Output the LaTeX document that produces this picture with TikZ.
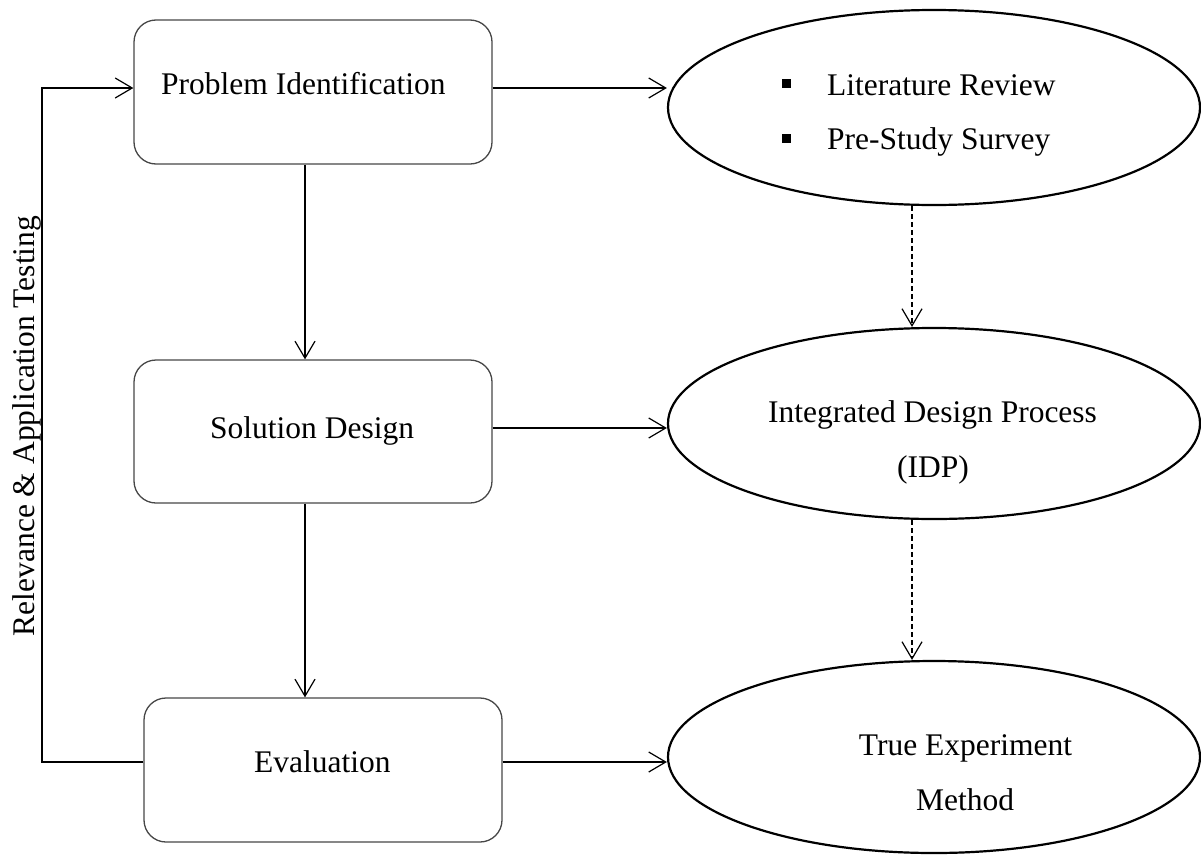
\documentclass[tikz,border=0pt]{standalone}
\usepackage{fontspec}
\setmainfont{Liberation Serif}
\usetikzlibrary{arrows.meta,shapes.geometric}

\tikzset{
  stagebox/.style={draw=black!72, line width=1.3pt, rounded corners=22pt,
    minimum width=358pt, minimum height=144pt, inner sep=0pt},
  method/.style={draw=black, ellipse, line width=2.2pt,
    minimum width=532pt, inner sep=0pt},
  txt/.style={inner sep=0pt, font=\fontsize{31.5}{38}\selectfont},
  sqbullet/.style={fill=black, draw=none, minimum size=9pt, inner sep=0pt},
  link/.style={draw=black, line width=1.2pt,
    -{Straight Barb[length=17pt,width=20pt,line width=1.2pt]}},
  flow/.style={link, dash pattern=on 5pt off 3pt},
}

\begin{document}
\begin{tikzpicture}[x=1pt,y=-1pt]
\useasboundingbox (0,0) rectangle (1201,854);

% process stages
\node[stagebox] (ident) at (313,92) {};
\node[stagebox, minimum height=143pt] (design) at (313,431.5) {};
\node[stagebox] (eval) at (323,770) {};

% supporting methods
\node[method, minimum height=195pt] (review) at (934,107.5) {};
\node[method, minimum height=191pt] (idp) at (934,423.5) {};
\node[method, minimum height=192pt] (exper) at (934,757) {};

% stage labels
\node[txt, anchor=base west] (tident) at (161,94) {Problem Identification};
\node[txt, anchor=base west] (tdesign) at (210,438) {Solution Design};
\node[txt, anchor=base west] (teval) at (254,772) {Evaluation};

% method labels
\node[sqbullet] (b1) at (786,83) {};
\node[sqbullet] (b2) at (786,138) {};
\node[txt, anchor=base west] (tlit) at (827,95) {Literature Review};
\node[txt, anchor=base west] (tpre) at (827,149) {Pre-Study Survey};
\node[txt, anchor=base] (tidp1) at (932.5,422) {Integrated Design Process};
\node[txt, anchor=base] (tidp2) at (933,477) {(IDP)};
\node[txt, anchor=base] (tex1) at (965.5,755) {True Experiment};
\node[txt, anchor=base] (tex2) at (965,810) {Method};

% feedback loop label
\node[txt, anchor=base, rotate=90] (tloop) at (34,426) {Relevance \& Application Testing};

% routing helpers
\coordinate (loopT) at (42,88);
\coordinate (loopB) at (42,762);
\coordinate (midrow) at (0,428);
\coordinate (vcol) at (305,0);
\coordinate (dcol) at (912,0);

% feedback loop
\draw[link] (eval.west |- loopB) -- (loopB) -- (loopT) -- (ident.west |- loopT);

% main sequence
\draw[link] (ident.south -| vcol) -- (design.north -| vcol);
\draw[link] (design.south -| vcol) -- (eval.north -| vcol);

% stage to method
\draw[link] (ident.east |- loopT) -- (review.west |- loopT);
\draw[link] (design.east |- midrow) -- (idp.west |- midrow);
\draw[link] (eval.east |- loopB) -- (exper.west |- loopB);

% method chain
\draw[flow] (review.south -| dcol) -- (idp.north -| dcol);
\draw[flow] (idp.south -| dcol) -- (exper.north -| dcol);
\end{tikzpicture}
\end{document}
